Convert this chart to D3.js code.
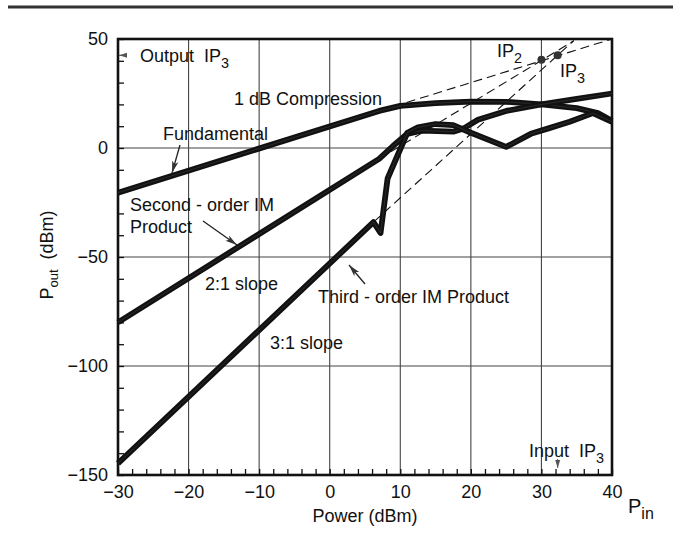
<!DOCTYPE html>
<html>
<head>
<meta charset="utf-8">
<script src="https://cdn.jsdelivr.net/npm/d3@7"></script>
<style>
  body { margin: 0; background: #fff; }
  svg text { font-family: "Liberation Sans", Arial, sans-serif; fill: #111; white-space: pre; }
</style>
</head>
<body>
<div id="chart"></div>
<script>
// curves: [Pin (dBm), Pout (dBm)]
const fundamental = [[-30, -20.5], [7, 17], [10, 19.3], [15, 20.6], [20, 21.3], [25, 21.2], [30, 20], [35, 18.3], [38, 16], [40, 12.5]];
const secondOrder = [[-30, -80], [7, -5], [9, 1], [11, 6.5], [13, 8], [17.5, 7.5], [19, 9], [21, 13], [25, 17], [30, 20], [35, 22.5], [40, 25]];
const thirdOrder = [[-30, -144.7], [6.2, -34], [7.2, -39], [8.2, -14], [11, 7], [12.5, 9.5], [15, 11], [17.5, 10.5], [20, 7], [25, 0.5], [28.5, 6.5], [31, 9], [34, 12], [37.3, 16], [40, 12]];

// extrapolated small-signal lines (dashed)
const fundExtrap = [[9, 19], [40, 50]];
const secondExtrap = [[7, -5], [34.5, 49]];
const thirdExtrap = [[6.2, -34], [34.6, 49.3]];

// intercept points
const ip2 = [30, 40.5];
const ip3 = [32.3, 42.5];

const xTicks = [-30, -20, -10, 0, 10, 20, 30, 40];
const yTicks = [-150, -100, -50, 0, 50];

const W = 681, H = 537;
const margin = {top: 39, right: 69, bottom: 62, left: 118};
const width = W - margin.left - margin.right;
const height = H - margin.top - margin.bottom;
const FS = 18;

const svg = d3.select("#chart").append("svg")
    .attr("width", W)
    .attr("height", H);

// thick rule across the top of the page
svg.append("line")
    .attr("x1", 8).attr("x2", 673)
    .attr("y1", 7).attr("y2", 7)
    .attr("stroke", "#333")
    .attr("stroke-width", 3);

const defs = svg.append("defs");
defs.append("marker")
    .attr("id", "arrow")
    .attr("viewBox", "0 0 12 8")
    .attr("refX", 12).attr("refY", 4)
    .attr("markerWidth", 12).attr("markerHeight", 8)
    .attr("markerUnits", "userSpaceOnUse")
    .attr("orient", "auto")
    .append("path")
    .attr("d", "M0,0.8 L12,4 L0,7.2 L3,4 Z")
    .attr("fill", "#333");
defs.append("marker")
    .attr("id", "arrowSmall")
    .attr("viewBox", "0 0 8 6")
    .attr("refX", 8).attr("refY", 3)
    .attr("markerWidth", 8).attr("markerHeight", 6)
    .attr("markerUnits", "userSpaceOnUse")
    .attr("orient", "auto")
    .append("path")
    .attr("d", "M0,0.5 L8,3 L0,5.5 Z")
    .attr("fill", "#555");

const g = svg.append("g").attr("transform", `translate(${margin.left},${margin.top})`);

const x = d3.scaleLinear().domain([-30, 40]).range([0, width]);
const y = d3.scaleLinear().domain([-150, 50]).range([height, 0]);

// grid
g.append("g").selectAll("line")
    .data(xTicks.slice(1, -1))
    .join("line")
    .attr("x1", d => x(d)).attr("x2", d => x(d))
    .attr("y1", 0).attr("y2", height)
    .attr("stroke", "#444").attr("stroke-width", 1.1);

g.append("g").selectAll("line")
    .data(yTicks.slice(1, -1))
    .join("line")
    .attr("x1", 0).attr("x2", width)
    .attr("y1", d => y(d)).attr("y2", d => y(d))
    .attr("stroke", "#444").attr("stroke-width", 1.1);

// axes with inner minor ticks
const xAxis = g.append("g")
    .attr("transform", `translate(0,${height})`)
    .call(d3.axisBottom(x).tickValues(d3.range(-30, 41, 2)).tickSize(-6).tickFormat(""));
xAxis.select(".domain").remove();
xAxis.selectAll("line").attr("stroke", "#111").attr("stroke-width", 1.3);

const xLabels = g.append("g")
    .attr("transform", `translate(0,${height})`)
    .call(d3.axisBottom(x).tickValues(xTicks).tickSize(0).tickPadding(10));
xLabels.select(".domain").remove();
xLabels.selectAll("text").attr("font-size", FS).style("font-family", '"Liberation Sans", Arial, sans-serif').attr("fill", "#111");

const yAxis = g.append("g")
    .call(d3.axisLeft(y).tickValues(d3.range(-150, 51, 10)).tickSize(-6).tickFormat(""));
yAxis.select(".domain").remove();
yAxis.selectAll("line").attr("stroke", "#111").attr("stroke-width", 1.3);

const yLabels = g.append("g")
    .call(d3.axisLeft(y).tickValues(yTicks).tickSize(0).tickPadding(10));
yLabels.select(".domain").remove();
yLabels.selectAll("text").attr("font-size", FS).style("font-family", '"Liberation Sans", Arial, sans-serif').attr("fill", "#111");

// frame
g.append("rect")
    .attr("width", width).attr("height", height)
    .attr("fill", "none").attr("stroke", "#111").attr("stroke-width", 2.6);

const line = d3.line().x(d => x(d[0])).y(d => y(d[1]));

// dashed extrapolations
[fundExtrap, secondExtrap, thirdExtrap].forEach(d => {
    g.append("path")
        .attr("d", line(d))
        .attr("fill", "none")
        .attr("stroke", "#111")
        .attr("stroke-width", 1.1)
        .attr("stroke-dasharray", "9,5");
});

// measured curves
[fundamental, secondOrder, thirdOrder].forEach(d => {
    g.append("path")
        .attr("d", line(d))
        .attr("fill", "none")
        .attr("stroke", "#111")
        .attr("stroke-width", 5.8)
        .attr("stroke-linejoin", "round");
    g.append("path")
        .attr("d", line(d))
        .attr("fill", "none")
        .attr("stroke", "#666")
        .attr("stroke-width", 0.5)
        .attr("stroke-opacity", 0.6);
});

// intercept dots
g.selectAll(".ip")
    .data([ip2, ip3])
    .join("circle")
    .attr("class", "ip")
    .attr("cx", d => x(d[0])).attr("cy", d => y(d[1]))
    .attr("r", 4)
    .attr("fill", "#333");

// helper for text with a subscript
function subText(px, py, main, sub, size, anchor) {
    const t = svg.append("text")
        .attr("x", px).attr("y", py)
        .attr("font-size", size)
        .attr("text-anchor", anchor || "start");
    t.append("tspan").text(main);
    t.append("tspan").attr("dy", size * 0.32).attr("font-size", size * 0.8).text(sub);
    return t;
}

// output / input IP3 markers
svg.append("path")
    .attr("d", `M${margin.left + 9},${margin.top + y(ip3[1])} L${margin.left + 1},${margin.top + y(ip3[1])}`)
    .attr("stroke", "#555").attr("stroke-width", 1)
    .attr("marker-end", "url(#arrowSmall)");
subText(140, 62, "Output  IP", "3", FS);

svg.append("path")
    .attr("d", `M${margin.left + x(ip3[0])},${margin.top + height - 16} L${margin.left + x(ip3[0])},${margin.top + height - 7}`)
    .attr("stroke", "#555").attr("stroke-width", 1)
    .attr("marker-end", "url(#arrowSmall)");
subText(604, 457, "Input  IP", "3", FS, "end");

subText(497, 57, "IP", "2", FS);
subText(560, 77, "IP", "3", FS);

// curve labels
const labels = [
    {t: "1 dB Compression", x: 234, y: 105},
    {t: "Fundamental", x: 163, y: 140},
    {t: "Second - order IM", x: 130, y: 211},
    {t: "Product", x: 130, y: 233},
    {t: "2:1 slope", x: 205, y: 290},
    {t: "Third - order IM Product", x: 318, y: 303},
    {t: "3:1 slope", x: 270, y: 349}
];
svg.selectAll(".lbl")
    .data(labels)
    .join("text")
    .attr("class", "lbl")
    .attr("x", d => d.x).attr("y", d => d.y)
    .attr("font-size", FS)
    .text(d => d.t);

// pointer arrows
const arrows = [
    [[180, 145], [172, 173]],
    [[203, 221], [237, 245]],
    [[365, 284], [349, 265]]
];
arrows.forEach(a => {
    svg.append("path")
        .attr("d", `M${a[0][0]},${a[0][1]} L${a[1][0]},${a[1][1]}`)
        .attr("stroke", "#222").attr("stroke-width", 1.3)
        .attr("marker-end", "url(#arrow)");
});

// axis titles
svg.append("text")
    .attr("x", margin.left + width / 2).attr("y", 522)
    .attr("text-anchor", "middle")
    .attr("font-size", FS)
    .text("Power (dBm)");

subText(628, 513, "P", "in", 20);

const yt = svg.append("text")
    .attr("transform", "translate(53,255) rotate(-90)")
    .attr("text-anchor", "middle")
    .attr("font-size", FS);
yt.append("tspan").text("P");
yt.append("tspan").attr("dy", 5).attr("font-size", 13).text("out");
yt.append("tspan").attr("dy", -5).text("  (dBm)");
</script>
</body>
</html>
